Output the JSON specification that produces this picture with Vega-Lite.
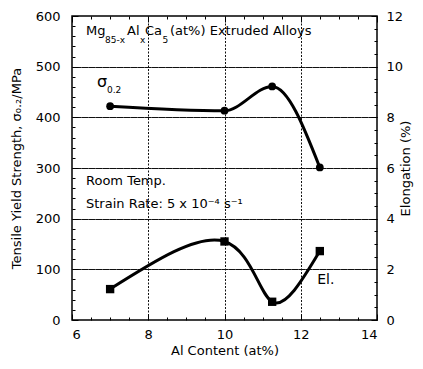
{
  "$schema": "https://vega.github.io/schema/vega-lite/v6.json",
  "width": 305,
  "height": 304,
  "autosize": {"type": "none"},
  "padding": {"left": 72, "top": 16, "right": 46, "bottom": 49},
  "background": "white",
  "config": {
    "view": {"stroke": "black", "strokeWidth": 1.5},
    "font": "DejaVu Sans",
    "text": {"font": "DejaVu Sans", "color": "black"},
    "axis": {"labelFont": "DejaVu Sans", "titleFont": "DejaVu Sans", "labelColor": "black", "titleColor": "black", "labelFontSize": 13, "titleFontSize": 13, "titleFontWeight": "normal", "domain": false, "tickColor": "black", "tickWidth": 1, "format": "d"}
  },
  "datasets": {
    "sigma": [{"al": 7, "s": 422}, {"al": 10, "s": 413}, {"al": 11.25, "s": 461}, {"al": 12.5, "s": 301}],
    "el": [{"al": 7, "e": 1.22}, {"al": 10, "e": 3.1}, {"al": 11.25, "e": 0.72}, {"al": 12.5, "e": 2.72}],
    "notes": [
      {"x": 6.367, "y": 562.5, "t": "Mg"},
      {"x": 7.443, "y": 562.5, "t": "Al"},
      {"x": 7.915, "y": 562.5, "t": "Ca"},
      {"x": 8.57, "y": 562.5, "t": "(at%) Extruded Alloys"},
      {"x": 6.367, "y": 266.4, "t": "Room Temp."},
      {"x": 6.367, "y": 221, "t": "Strain Rate: 5 x 10⁻⁴ s⁻¹"}
    ],
    "subs": [
      {"x": 6.866, "y": 546, "t": "85-x"},
      {"x": 7.784, "y": 546, "t": "x"},
      {"x": 8.374, "y": 546, "t": "5"},
      {"x": 6.918, "y": 448, "t": "0.2"}
    ],
    "sig": [{"x": 6.656, "y": 460, "t": "σ"}],
    "ellab": [{"x": 12.43, "y": 71, "t": "El."}]
  },
  "layer": [
    {
      "data": {"name": "sigma"},
      "mark": {"type": "line", "interpolate": "monotone", "color": "black", "strokeWidth": 3},
      "encoding": {
        "x": {"field": "al", "type": "quantitative", "scale": {"domain": [6, 14], "nice": false},
          "title": "Al Content (at%)",
          "axis": {"orient": "bottom", "values": [6,6.5,7,7.5,8,8.5,9,9.5,10,10.5,11,11.5,12,12.5,13,13.5,14],
            "labelExpr": "datum.value % 2 === 0 ? datum.label : ''",
            "tickSize": {"condition": {"test": "datum.value % 2 === 0", "value": -6}, "value": -3},
            "labelPadding": 14, "titlePadding": 3,
            "grid": true, "gridDash": [2, 1.5], "gridWidth": 1,
            "gridColor": {"condition": {"test": "datum.value % 2 === 0 && datum.value > 6 && datum.value < 14", "value": "#111111"}, "value": "transparent"}}},
        "y": {"field": "s", "type": "quantitative", "scale": {"domain": [0, 600], "nice": false},
          "title": "Tensile Yield Strength, σ₀.₂/MPa",
          "axis": {"orient": "left", "values": [0,20,40,60,80,100,120,140,160,180,200,220,240,260,280,300,320,340,360,380,400,420,440,460,480,500,520,540,560,580,600],
            "labelExpr": "datum.value % 100 === 0 ? datum.label : ''",
            "tickSize": {"condition": {"test": "datum.value % 100 === 0", "value": -6}, "value": -3},
            "labelPadding": 18, "titlePadding": 12,
            "grid": true, "gridDash": [2, 1.5], "gridWidth": 1,
            "gridColor": {"condition": {"test": "datum.value % 100 === 0 && datum.value > 0 && datum.value < 600", "value": "#111111"}, "value": "transparent"}}}
      }
    },
    {
      "data": {"name": "sigma"},
      "mark": {"type": "point", "shape": "circle", "filled": true, "color": "black", "opacity": 1, "size": 60},
      "encoding": {
        "x": {"field": "al", "type": "quantitative", "scale": {"domain": [6, 14], "nice": false}, "axis": null},
        "y": {"field": "s", "type": "quantitative", "scale": {"domain": [0, 600], "nice": false}, "axis": null}
      }
    },
    {
      "data": {"name": "el"},
      "mark": {"type": "line", "interpolate": "natural", "color": "black", "strokeWidth": 3},
      "encoding": {
        "x": {"field": "al", "type": "quantitative", "scale": {"domain": [6, 14], "nice": false},
          "axis": {"orient": "top", "values": [6,6.5,7,7.5,8,8.5,9,9.5,10,10.5,11,11.5,12,12.5,13,13.5,14], "labels": false, "title": null,
            "tickSize": {"condition": {"test": "datum.value % 2 === 0", "value": -6}, "value": -3}, "grid": false}},
        "y": {"field": "e", "type": "quantitative", "scale": {"domain": [0, 12], "nice": false},
          "title": "Elongation (%)",
          "axis": {"orient": "right", "values": [0,0.5,1,1.5,2,2.5,3,3.5,4,4.5,5,5.5,6,6.5,7,7.5,8,8.5,9,9.5,10,10.5,11,11.5,12],
            "labelExpr": "datum.value % 2 === 0 ? datum.label : ''",
            "tickSize": {"condition": {"test": "datum.value % 2 === 0", "value": -6}, "value": -3},
            "labelPadding": 15, "titlePadding": 10, "titleAngle": 270,
            "grid": true, "gridDash": [2, 1.5], "gridWidth": 1,
            "gridColor": {"condition": {"test": "datum.value % 2 === 0 && datum.value > 0 && datum.value < 12", "value": "#111111"}, "value": "transparent"}}}
      }
    },
    {
      "data": {"name": "el"},
      "mark": {"type": "point", "shape": "square", "filled": true, "color": "black", "opacity": 1, "size": 70},
      "encoding": {
        "x": {"field": "al", "type": "quantitative", "scale": {"domain": [6, 14], "nice": false}, "axis": null},
        "y": {"field": "e", "type": "quantitative", "scale": {"domain": [0, 12], "nice": false}, "axis": null}
      }
    },
    {
      "data": {"name": "notes"},
      "mark": {"type": "text", "align": "left", "baseline": "alphabetic", "fontSize": 13},
      "encoding": {
        "x": {"field": "x", "type": "quantitative", "scale": {"domain": [6, 14], "nice": false}, "axis": null},
        "y": {"field": "y", "type": "quantitative", "scale": {"domain": [0, 600], "nice": false}, "axis": null},
        "text": {"field": "t"}
      }
    },
    {
      "data": {"name": "subs"},
      "mark": {"type": "text", "align": "left", "baseline": "alphabetic", "fontSize": 9},
      "encoding": {
        "x": {"field": "x", "type": "quantitative", "scale": {"domain": [6, 14], "nice": false}, "axis": null},
        "y": {"field": "y", "type": "quantitative", "scale": {"domain": [0, 600], "nice": false}, "axis": null},
        "text": {"field": "t"}
      }
    },
    {
      "data": {"name": "sig"},
      "mark": {"type": "text", "align": "left", "baseline": "alphabetic", "fontSize": 16},
      "encoding": {
        "x": {"field": "x", "type": "quantitative", "scale": {"domain": [6, 14], "nice": false}, "axis": null},
        "y": {"field": "y", "type": "quantitative", "scale": {"domain": [0, 600], "nice": false}, "axis": null},
        "text": {"field": "t"}
      }
    },
    {
      "data": {"name": "ellab"},
      "mark": {"type": "text", "align": "left", "baseline": "alphabetic", "fontSize": 14},
      "encoding": {
        "x": {"field": "x", "type": "quantitative", "scale": {"domain": [6, 14], "nice": false}, "axis": null},
        "y": {"field": "y", "type": "quantitative", "scale": {"domain": [0, 600], "nice": false}, "axis": null},
        "text": {"field": "t"}
      }
    }
  ],
  "resolve": {"scale": {"y": "independent"}, "axis": {"x": "independent", "y": "independent"}}
}
